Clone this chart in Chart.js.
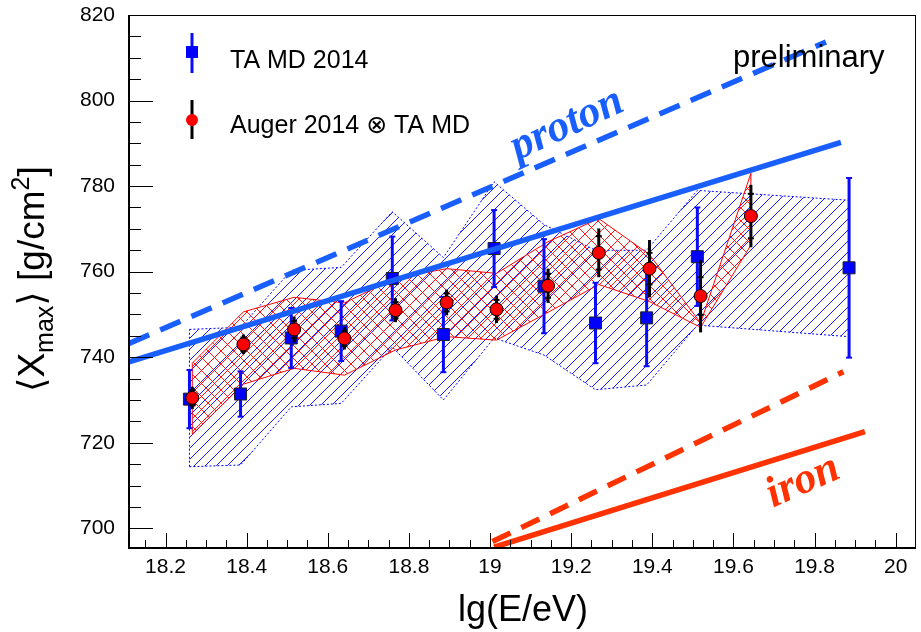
<!DOCTYPE html>
<html>
<head>
  <meta charset="UTF-8">
  <title>Xmax vs lg(E/eV)</title>
  <style type="text/css">
    body { margin: 0; background: #fff; }
    #chart-container { width: 921px; height: 632px; }
  </style>
  <script type="text/javascript" src="https://cdn.jsdelivr.net/npm/chart.js@4.4.1/dist/chart.umd.min.js"></script>
</head>
<body>
<div id="chart-container"><canvas id="mycanvas" width="921" height="632"></canvas></div>
<script>
// TA MD 2014
var taX     = [18.259, 18.385, 18.510, 18.633, 18.759, 18.885, 19.010, 19.133, 19.260, 19.386, 19.511, 19.885];
var taY     = [730.2, 731.4, 744.5, 746.1, 758.4, 745.3, 765.4, 756.6, 748.0, 749.2, 763.5, 760.9];
var taErr   = [6.8, 5.3, 7.0, 7.0, 9.8, 8.8, 9.0, 11.0, 9.4, 11.3, 11.5, 21.0];
var taSysLo = [714.4, 714.8, 728.4, 729.2, 742.4, 730.0, 744.5, 740.5, 732.4, 733.5, 747.5, 744.8];
var taSysHi = [746.5, 747.0, 760.3, 761.0, 774.0, 763.3, 781.0, 771.0, 765.0, 765.0, 779.0, 776.7];

// Auger 2014 (x) TA MD
var augX     = [18.266, 18.392, 18.517, 18.641, 18.767, 18.893, 19.016, 19.143, 19.268, 19.393, 19.519, 19.643];
var augY     = [730.5, 743.0, 746.5, 744.4, 751.0, 752.8, 751.2, 756.7, 764.4, 760.7, 754.3, 773.0];
var augErr   = [2.6, 2.3, 3.0, 2.6, 2.8, 3.0, 3.2, 4.0, 5.7, 6.7, 8.5, 7.3];
var augStat  = [1.8, 1.6, 2.0, 1.8, 1.9, 2.1, 2.2, 2.8, 3.9, 3.7, 4.4, 5.2];
var augSysLo = [722.0, 733.7, 737.4, 735.8, 741.7, 744.8, 744.0, 750.5, 757.0, 753.0, 747.0, 766.2];
var augSysHi = [738.6, 750.6, 754.0, 752.7, 758.5, 760.7, 759.6, 767.0, 772.4, 764.0, 748.0, 783.0];

// model predictions
var protonX = [18.11, 19.865], protonY = [738.9, 790.2];
var protonDashX = [18.11, 19.828], protonDashY = [743.2, 813.7];
var ironX = [19.01, 19.924], ironY = [695.6, 722.6];
var ironDashX = [19.006, 19.871], ironDashY = [696.9, 736.6];

var xTicks = [18.2, 18.4, 18.6, 18.8, 19, 19.2, 19.4, 19.6, 19.8, 20];
var yTicks = [700, 720, 740, 760, 780, 800, 820];

var SANS = '"Liberation Sans", "DejaVu Sans", Arial, sans-serif';
var BLUE_MODEL = 'rgb(25,95,255)';
var RED_MODEL = 'rgb(255,50,0)';

function pts(xs, ys) {
  return xs.map(function(x, i) { return {x: x, y: ys[i]}; });
}

var ctx = document.getElementById('mycanvas').getContext('2d');

function hatch(color, step, cross) {
  var c = document.createElement('canvas');
  c.width = step; c.height = step;
  var g = c.getContext('2d');
  g.strokeStyle = color;
  g.lineWidth = 1;
  g.beginPath();
  g.moveTo(-1, step + 1); g.lineTo(step + 1, -1);
  g.moveTo(-1, 1); g.lineTo(1, -1);
  g.moveTo(step - 1, step + 1); g.lineTo(step + 1, step - 1);
  if (cross) {
    g.moveTo(-1, -1); g.lineTo(step + 1, step + 1);
    g.moveTo(step - 1, -1); g.lineTo(step + 1, 1);
    g.moveTo(-1, step - 1); g.lineTo(1, step + 1);
  }
  g.stroke();
  return ctx.createPattern(c, 'repeat');
}

var blueHatch = hatch('rgba(0,0,255,0.9)', 11, false);
var redHatch = hatch('rgba(255,0,0,0.9)', 13, true);

function lineSet(data, color, width, dash) {
  return { data: data, showLine: true, borderColor: color, borderWidth: width,
           borderDash: dash || [], borderCapStyle: 'butt', pointRadius: 0,
           fill: false, tension: 0 };
}

var datasets = [
  lineSet(pts(protonX, protonY), BLUE_MODEL, 5.5),
  lineSet(pts(protonDashX, protonDashY), BLUE_MODEL, 5.5, [22, 12]),
  lineSet(pts(ironX, ironY), RED_MODEL, 5.5),
  lineSet(pts(ironDashX, ironDashY), RED_MODEL, 5.5, [20, 12]),
  { data: pts(augX, augY), showLine: false, pointStyle: 'circle', pointRadius: 6.5,
    backgroundColor: '#ff0000', borderColor: '#000', borderWidth: 1 },
  { data: pts(taX, taY), showLine: false, pointStyle: 'rect', pointRadius: 8.5,
    backgroundColor: '#0000ff', borderColor: '#222', borderWidth: 1 },
  // Auger band
  Object.assign(lineSet(pts(augX, augSysHi), '#ff0000', 1), { fill: '+1', backgroundColor: redHatch }),
  lineSet(pts(augX, augSysLo), '#ff0000', 1),
  lineSet(pts([augX[0], augX[0]], [augSysLo[0], augSysHi[0]]), '#ff0000', 1),
  lineSet(pts([augX[11], augX[11]], [augSysLo[11], augSysHi[11]]), '#ff0000', 1),
  // TA band
  Object.assign(lineSet(pts(taX, taSysHi), '#0000ff', 1, [2, 2]), { fill: '+1', backgroundColor: blueHatch }),
  lineSet(pts(taX, taSysLo), '#0000ff', 1, [2, 2]),
  lineSet(pts([taX[0], taX[0]], [taSysLo[0], taSysHi[0]]), '#0000ff', 1, [2, 2]),
  lineSet(pts([taX[11], taX[11]], [taSysLo[11], taSysHi[11]]), '#0000ff', 1, [2, 2])
];

function vbar(g, px, y1, y2, color, w) {
  g.strokeStyle = color; g.lineWidth = w;
  g.beginPath(); g.moveTo(px, y1); g.lineTo(px, y2); g.stroke();
}
function hcap(g, px, py, half, color, w) {
  g.strokeStyle = color; g.lineWidth = w;
  g.beginPath(); g.moveTo(px - half, py); g.lineTo(px + half, py); g.stroke();
}

var errorBars = {
  id: 'errorBars',
  beforeDatasetDraw: function(chart, args) {
    var xs = chart.scales.x, ys = chart.scales.y, g = chart.ctx, i, px;
    g.save();
    if (args.index === 5) {
      for (i = 0; i < taX.length; i++) {
        px = xs.getPixelForValue(taX[i]);
        var top = ys.getPixelForValue(taY[i] + taErr[i]);
        var bot = ys.getPixelForValue(taY[i] - taErr[i]);
        vbar(g, px, top, bot, '#0a0aff', 3);
        hcap(g, px, top, 3, '#0a0aff', 2);
        hcap(g, px, bot, 3, '#0a0aff', 2);
      }
    }
    if (args.index === 4) {
      for (i = 0; i < augX.length; i++) {
        px = xs.getPixelForValue(augX[i]);
        vbar(g, px, ys.getPixelForValue(augY[i] + augErr[i]), ys.getPixelForValue(augY[i] - augErr[i]), '#000', 3);
        hcap(g, px, ys.getPixelForValue(augY[i] + augStat[i]), 3, '#000', 2);
        hcap(g, px, ys.getPixelForValue(augY[i] - augStat[i]), 3, '#000', 2);
      }
    }
    g.restore();
  }
};

var frameAndText = {
  id: 'frameAndText',
  afterDraw: function(chart) {
    var g = chart.ctx, a = chart.chartArea, xs = chart.scales.x, ys = chart.scales.y, v, p;
    g.save();
    // ticks
    g.strokeStyle = '#000'; g.lineWidth = 1;
    g.beginPath();
    for (v = 700; v <= 820.01; v += 5) {
      p = Math.round(ys.getPixelForValue(v)) + 0.5;
      var len = (Math.round(v) % 20 === 0) ? 24 : 12;
      g.moveTo(a.left, p); g.lineTo(a.left + len, p);
    }
    for (v = 18.15; v < 20.04; v += 0.05) {
      p = Math.round(xs.getPixelForValue(v)) + 0.5;
      var major = Math.abs(v * 5 - Math.round(v * 5)) < 1e-6;
      g.moveTo(p, a.bottom); g.lineTo(p, a.bottom - (major ? 15 : 8));
    }
    g.stroke();
    // frame
    g.lineWidth = 1;
    g.strokeRect(a.left + 0.5, a.top + 0.5, a.right - a.left - 1, a.bottom - a.top - 1);
    g.lineWidth = 2;
    g.beginPath();
    g.moveTo(a.left, a.top); g.lineTo(a.left, a.bottom); g.lineTo(a.right, a.bottom);
    g.stroke();

    // legend
    g.fillStyle = '#000';
    g.textBaseline = 'alphabetic';
    g.textAlign = 'left';
    g.font = '25px ' + SANS;
    g.fillText('TA MD 2014', 230, 68);
    g.fillText('Auger 2014 \u2297 TA MD', 230, 133);
    vbar(g, 192, 33, 73, '#0a0aff', 3);
    g.fillStyle = '#0000ff';
    g.fillRect(186, 46, 12, 12);
    vbar(g, 192, 100, 139, '#000', 3);
    g.fillStyle = '#ff0000';
    g.beginPath(); g.arc(192, 120, 6, 0, Math.PI * 2); g.fill();

    // preliminary
    g.fillStyle = '#000';
    g.font = '31px ' + SANS;
    g.fillText('preliminary', 733, 67);

    // model labels
    g.font = 'bold italic 44px "Liberation Serif", "DejaVu Serif", serif';
    g.textAlign = 'center'; g.textBaseline = 'middle';
    g.save();
    g.translate(567, 125); g.rotate(-25 * Math.PI / 180);
    g.fillStyle = BLUE_MODEL; g.fillText('proton', 0, 0);
    g.restore();
    g.save();
    g.translate(803, 482); g.rotate(-24 * Math.PI / 180);
    g.fillStyle = RED_MODEL; g.fillText('iron', 0, 0);
    g.restore();

    // x title
    g.fillStyle = '#000';
    g.textAlign = 'right'; g.textBaseline = 'alphabetic';
    g.font = '36px ' + SANS;
    g.fillText('lg(E/eV)', 588, 621);

    // y title
    g.save();
    g.translate(44, 392); g.rotate(-Math.PI / 2);
    g.textAlign = 'left';
    var x = 0;
    function piece(t, size, dy) {
      g.font = size + 'px ' + SANS;
      g.fillText(t, x, dy);
      x += g.measureText(t).width;
    }
    piece('\u27E8', 37, 0);
    piece('X', 37, 0);
    piece('max', 25, 9);
    piece('\u27E9', 37, 0);
    piece(' [g/cm', 37, 0);
    piece('2', 25, -15);
    piece(']', 37, 0);
    g.restore();
    g.restore();
  }
};

function noPad(s) {
  s.paddingTop = 0; s.paddingBottom = 0; s.paddingLeft = 0; s.paddingRight = 0;
}

var chart = new Chart(ctx, {
  type: 'line',
  data: { datasets: datasets },
  plugins: [errorBars, frameAndText],
  options: {
    responsive: false,
    animation: false,
    devicePixelRatio: 1,
    events: [],
    layout: { autoPadding: false, padding: { top: 15, right: 5, left: 0, bottom: 0 } },
    plugins: { legend: { display: false }, tooltip: { enabled: false }, filler: { propagate: false } },
    scales: {
      x: {
        type: 'linear', min: 18.11, max: 20.05,
        grid: { display: false, drawTicks: false }, border: { display: false },
        afterBuildTicks: function(s) { s.ticks = xTicks.map(function(v) { return {value: v}; }); },
        afterFit: function(s) { s.height = 84; noPad(s); },
        ticks: { color: '#000', font: { family: SANS, size: 21 }, padding: 7, maxRotation: 0,
                 autoSkip: false, callback: function(v) { return String(v); } }
      },
      y: {
        type: 'linear', min: 695.4, max: 820,
        grid: { display: false, drawTicks: false }, border: { display: false },
        afterBuildTicks: function(s) { s.ticks = yTicks.map(function(v) { return {value: v}; }); },
        afterFit: function(s) { s.width = 129; noPad(s); },
        ticks: { color: '#000', font: { family: SANS, size: 21 }, padding: 14,
                 autoSkip: false, callback: function(v) { return String(v); } }
      }
    }
  }
});
</script>
</body>
</html>
